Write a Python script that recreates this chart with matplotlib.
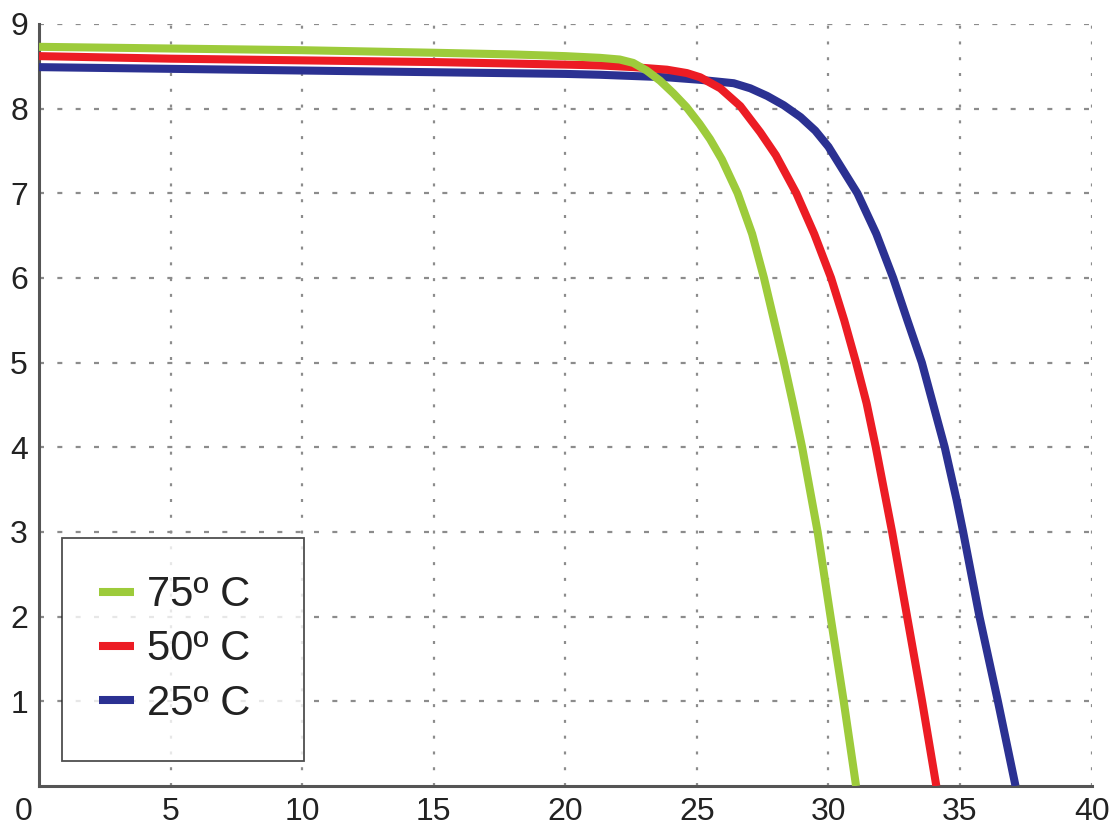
import matplotlib
matplotlib.use("Agg")
import matplotlib.pyplot as plt
from matplotlib.transforms import ScaledTranslation

# ---- data ----
labels = ["75º C", "50º C", "25º C"]
colors = ["#9dcb3b", "#ec1c24", "#2b3192"]

x_75 = [0, 5, 10, 15, 18, 20, 21.31, 22.07, 22.58, 23.09, 23.6, 24.11, 24.6, 25.1, 25.5, 25.95,
        26.55, 27.1, 27.55, 27.93, 28.31, 28.65, 29.0, 29.59, 30.08, 30.58, 31.05]
y_75 = [8.73, 8.71, 8.69, 8.66, 8.64, 8.62, 8.60, 8.58, 8.54, 8.45, 8.33, 8.18, 8.02, 7.82, 7.64, 7.40,
        7.0, 6.52, 6.0, 5.5, 5.0, 4.52, 4.0, 3.0, 2.0, 1.0, 0.0]

x_50 = [0, 5, 10, 15, 20, 21.31, 22.58, 23.86, 24.62, 25.13, 25.89, 26.65, 27.41, 28.0, 28.78,
        29.46, 30.1, 30.6, 31.05, 31.45, 31.8, 32.42, 32.99, 33.56, 34.1]
y_50 = [8.62, 8.59, 8.57, 8.55, 8.52, 8.51, 8.49, 8.46, 8.42, 8.37, 8.24, 8.03, 7.72, 7.45, 7.0,
        6.52, 6.0, 5.5, 5.0, 4.52, 4.0, 3.0, 2.0, 1.0, 0.0]

x_25 = [0, 5, 10, 15, 20, 21.31, 23.86, 25.13, 26.4, 27.03, 27.67, 28.3, 28.94, 29.5, 30.0, 30.5,
        31.1, 31.82, 32.46, 33.0, 33.55, 34.42, 34.87, 35.12, 35.74, 36.44, 37.11]
y_25 = [8.49, 8.47, 8.45, 8.43, 8.41, 8.40, 8.37, 8.34, 8.30, 8.24, 8.15, 8.04, 7.90, 7.74, 7.55, 7.30,
        7.0, 6.52, 6.0, 5.5, 5.0, 4.0, 3.38, 3.0, 2.0, 1.0, 0.0]

x_ticks = [0, 5, 10, 15, 20, 25, 30, 35, 40]
y_ticks = [1, 2, 3, 4, 5, 6, 7, 8, 9]

plt.rcParams['font.family'] = ['Liberation Sans', 'DejaVu Sans']

fig = plt.figure(figsize=(11.15, 8.26), dpi=100)
ax = fig.add_axes([0.035, 0.0484, 0.944, 0.9226])

lw = 5.8
series = [(x_75, y_75), (x_50, y_50), (x_25, y_25)]
handles = [None] * 3
for i in [2, 1, 0]:
    xs, ys = series[i]
    h, = ax.plot(xs, ys, color=colors[i], lw=lw, solid_capstyle='butt',
                 solid_joinstyle='round', label=labels[i], zorder=3 + (2 - i))
    handles[i] = h

ax.set_xlim(0, 40)
ax.set_ylim(0, 9)
ax.set_xticks(x_ticks)
ax.set_yticks(y_ticks)
ax.set_xticklabels([str(v) for v in x_ticks])
ax.set_yticklabels([str(v) for v in y_ticks])
ax.tick_params(length=0, labelsize=23, colors='#222222', pad=8)

for s in ['top', 'right']:
    ax.spines[s].set_visible(False)
for s in ['left', 'bottom']:
    ax.spines[s].set_color('#555555')
    ax.spines[s].set_linewidth(2.2)

# grid lines
gl = 1.6
for v in x_ticks[1:]:
    ax.axvline(v, color='#8c8c8c', lw=gl, dashes=(1.35, 5.75), zorder=1)
for v in y_ticks:
    ax.axhline(v, color='#8c8c8c', lw=gl, dashes=(2.25, 6.0), zorder=1)

# shift "0" x label to the left
lab0 = ax.get_xticklabels()[0]
lab0.set_transform(lab0.get_transform() + ScaledTranslation(-0.15, 0, fig.dpi_scale_trans))

leg = ax.legend(handles=handles, labels=labels, loc='lower left',
                bbox_to_anchor=(0.0218, 0.0328, 0.23, 0.299), mode='expand',
                fontsize=30, frameon=True, fancybox=False, edgecolor='#222222',
                handlelength=0.82, handletextpad=0.33, borderpad=0.9,
                labelspacing=0.34, borderaxespad=0)
leg.get_frame().set_linewidth(1.3)
for t in leg.get_texts():
    t.set_color('#222222')
leg.set_zorder(10)

fig.savefig("out.png", dpi=100)
